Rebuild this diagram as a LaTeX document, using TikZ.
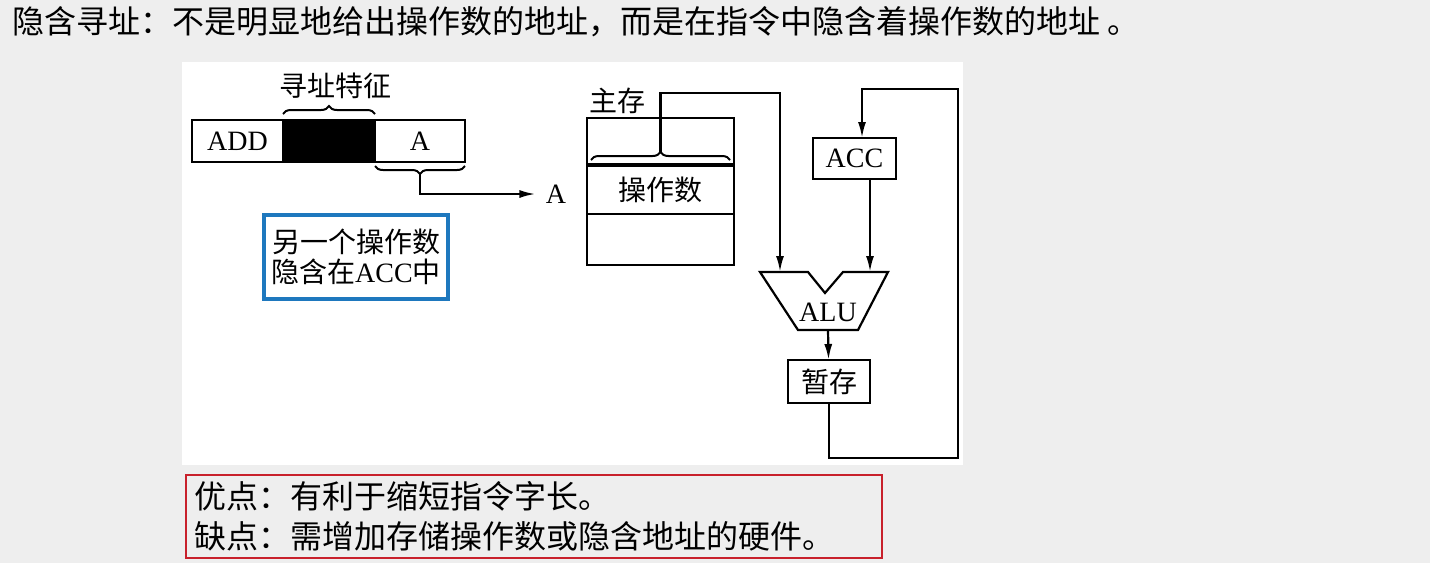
\documentclass[tikz,border=0pt]{standalone}
\usepackage{fontspec}
\setmainfont{Liberation Serif}
\newfontfamily\cjk{Noto Sans CJK SC}
\usetikzlibrary{arrows.meta}
\usetikzlibrary{decorations.pathreplacing}
\usetikzlibrary{positioning}
\definecolor{slidegray}{RGB}{238,238,238}
\definecolor{noteblue}{RGB}{30,120,190}
\definecolor{prored}{RGB}{200,32,43}

\begin{document}
\begin{tikzpicture}[x=0.5pt, y=-0.5pt,
  box/.style={draw, line width=1.1pt, inner sep=0pt, outer sep=0pt, font=\fontsize{14}{15}\selectfont},
  lbl/.style={inner sep=0pt, font=\cjk\fontsize{14}{15}\selectfont},
  arr/.style={-{Latex[length=8pt,width=4pt]}, line width=1.1pt},
  brace/.style={decorate, decoration={brace, amplitude=4pt}, line width=1pt}]

\fill[slidegray] (0,0) rectangle (1430,563);
\fill[white] (182,62) rectangle (963,465);
\useasboundingbox (0,0) rectangle (1430,563);

\node[anchor=west, inner sep=0pt, font=\cjk\fontsize{16}{18}\selectfont] (title) at (12,22) {隐含寻址：不是明显地给出操作数的地址，而是在指令中隐含着操作数的地址 。};

% instruction
\node[box, minimum width=45.5pt, minimum height=21pt] (opc) at (237.5,141) {ADD};
\node[box, fill=black, minimum width=46pt, minimum height=21pt, right=0pt of opc] (feat) {};
\node[box, minimum width=45pt, minimum height=21pt, right=0pt of feat] (addr) {A};
\draw[brace] ([yshift=3pt]feat.north west) -- ([yshift=3pt]feat.north east);
\node[lbl] (featlbl) at (335,86) {寻址特征};
\draw[brace] ([yshift=-2pt]addr.south east) -- ([yshift=-2pt]addr.south west);
\coordinate (addrtip) at ([yshift=-6pt]addr.south);
\node[inner sep=0pt, font=\fontsize{14}{15}\selectfont] (tgt) at (556,194) {A};
\draw[arr] (addrtip) |- ([xshift=-5pt]tgt.west);

\node[draw=noteblue, line width=1.6pt, minimum width=92pt, minimum height=42pt, align=center, font=\fontsize{14}{15}\selectfont] (note) at (356,257) {{\cjk 另一个操作数}\\{\cjk 隐含在}ACC{\cjk 中}};

% main memory
\node[lbl] (memlbl) at (617,101) {主存};
\node[box, minimum width=73.5pt, minimum height=23.5pt] (mtop) at (660.5,141.5) {};
\node[box, minimum width=73.5pt, minimum height=24.5pt, below=0pt of mtop, font=\cjk\fontsize{14}{15}\selectfont] (mopd) {操作数};
\node[box, minimum width=73.5pt, minimum height=25.5pt, below=0pt of mopd] (mbot) {};
\draw[line width=1.8pt] (mopd.north west) -- (mopd.north east);
\draw[brace] ([xshift=2pt,yshift=2.5pt]mopd.north west) -- ([xshift=-2pt,yshift=2.5pt]mopd.north east);
\coordinate (memtip) at ([yshift=6.5pt]mopd.north);

% ALU, ACC
\draw[line width=1.1pt] (760,272) -- (808,272) -- (825,293) -- (843,272) -- (888,272) -- (858,330) -- (798,330) -- cycle;
\node[inner sep=0pt, font=\fontsize{14}{15}\selectfont] (alu) at (828,312) {ALU};
\coordinate (aluinL) at (780,272);
\coordinate (aluinR) at (870,272);
\coordinate (aluout) at (828,330);
\node[box, minimum width=41.5pt, minimum height=20.5pt] (acc) at (854.5,158.5) {ACC};
\node[box, minimum width=41pt, minimum height=21.5pt, font=\cjk\fontsize{14}{15}\selectfont] (tmp) at (829,381.5) {暂存};

\draw[arr] (memtip) -- ++(0,-59) -| (aluinL);
\draw[arr] (acc.south -| aluinR) -- (aluinR);
\draw[arr] (aluout) -- (tmp);
\coordinate (loopR) at (958,458);
\coordinate (loopT) at (862,89);
\draw[arr] (tmp.south) |- (loopR) |- (loopT) -- (loopT |- acc.north);

\node[draw=prored, line width=1pt, minimum width=348pt, minimum height=40.5pt, text width=340pt, align=left, inner xsep=3pt, font=\cjk\fontsize{16}{20}\selectfont] (pros) at (534,516.5) {优点：有利于缩短指令字长。\\缺点：需增加存储操作数或隐含地址的硬件。};

\end{tikzpicture}
\end{document}
